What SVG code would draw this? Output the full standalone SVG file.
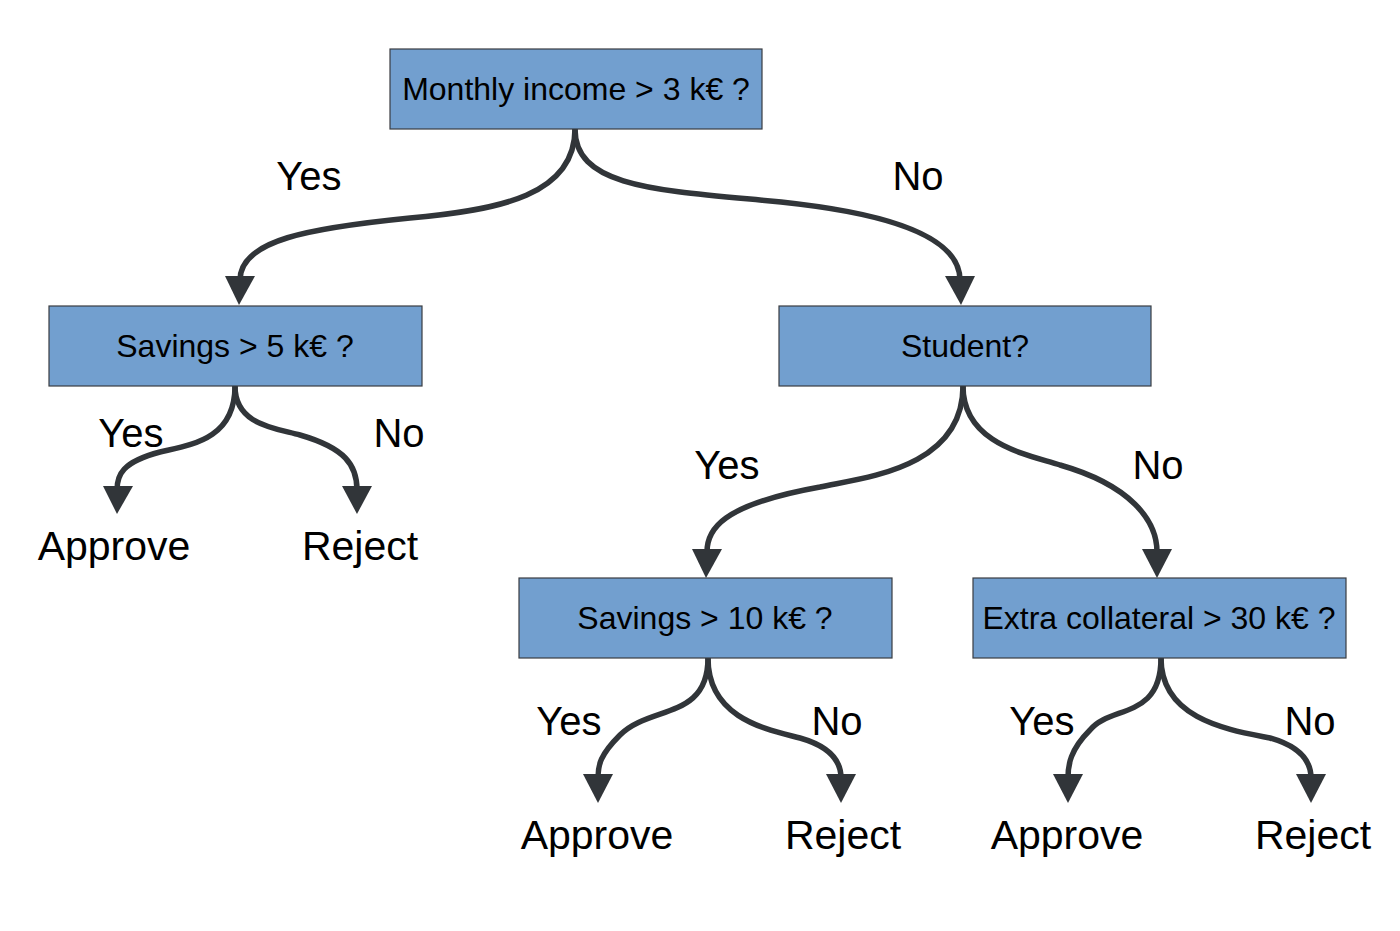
<svg xmlns="http://www.w3.org/2000/svg" width="1400" height="931" viewBox="0 0 1400 931">
<style>
.box{fill:#729fcf;stroke:#3a3d42;stroke-width:1.2}
.bt{font-family:"Liberation Sans",Arial,sans-serif;font-size:32px;fill:#000;text-anchor:middle}
.lb{font-family:"Liberation Sans",Arial,sans-serif;font-size:40px;fill:#000;text-anchor:middle}
.lf{font-family:"Liberation Sans",Arial,sans-serif;font-size:41px;fill:#000;text-anchor:middle}
.c{fill:none;stroke:#313539;stroke-width:5.5}
.ah{fill:#313539}
</style>
<rect width="1400" height="931" fill="#fff"/>
<g id="connectors">
<path class="c" d="M575,129 C575,195 500,210 410,218 C310,228 240,240 240,280"/>
<polygon class="ah" points="225,276 255,276 239,305"/>
<path class="c" d="M575,129 C575,185 650,190 760,200 C900,212 960,240 960,280"/>
<polygon class="ah" points="945,276 975,276 961,305"/>
<path class="c" d="M235,386 C235,440 190,445 160,452 C122,462 117,475 117,490"/>
<polygon class="ah" points="103,486 133,486 117,514"/>
<path class="c" d="M235,386 C235,425 275,428 300,435 C345,448 357,465 357,490"/>
<polygon class="ah" points="342,486 372,486 357,514"/>
<path class="c" d="M963,386 C963,470 860,478 820,487 C720,505 707,530 707,552"/>
<polygon class="ah" points="692,549 722,549 706,578"/>
<path class="c" d="M963,386 C963,445 1030,455 1060,465 C1130,485 1157,520 1157,552"/>
<polygon class="ah" points="1142,549 1172,549 1157,578"/>
<path class="c" d="M708,658 C708,720 650,705 620,735 C600,755 598,765 598,778"/>
<polygon class="ah" points="583,774 613,774 598,803"/>
<path class="c" d="M708,658 C708,720 770,730 800,738 C835,748 841,765 841,778"/>
<polygon class="ah" points="826,774 856,774 841,803"/>
<path class="c" d="M1161,658 C1161,720 1110,705 1090,730 C1070,750 1068,765 1068,778"/>
<polygon class="ah" points="1053,774 1083,774 1068,803"/>
<path class="c" d="M1161,658 C1161,720 1230,730 1270,738 C1305,748 1311,765 1311,778"/>
<polygon class="ah" points="1296,774 1326,774 1311,803"/>
</g>
<g id="n-income"><rect class="box" x="390" y="49" width="372" height="80"/><text class="bt" x="576" y="100">Monthly income &gt; 3 k€ ?</text></g>
<g id="n-savings5"><rect class="box" x="49" y="306" width="373" height="80"/><text class="bt" x="235" y="357">Savings &gt; 5 k€ ?</text></g>
<g id="n-student"><rect class="box" x="779" y="306" width="372" height="80"/><text class="bt" x="965" y="357">Student?</text></g>
<g id="n-savings10"><rect class="box" x="519" y="578" width="373" height="80"/><text class="bt" x="705" y="629">Savings &gt; 10 k€ ?</text></g>
<g id="n-collateral"><rect class="box" x="973" y="578" width="373" height="80"/><text class="bt" x="1159" y="629">Extra collateral &gt; 30 k€ ?</text></g>
<g id="labels">
<text class="lb" x="309" y="190">Yes</text>
<text class="lb" x="918" y="190">No</text>
<text class="lb" x="131" y="447">Yes</text>
<text class="lb" x="399" y="447">No</text>
<text class="lb" x="727" y="479">Yes</text>
<text class="lb" x="1158" y="479">No</text>
<text class="lb" x="569" y="735">Yes</text>
<text class="lb" x="837" y="735">No</text>
<text class="lb" x="1042" y="735">Yes</text>
<text class="lb" x="1310" y="735">No</text>
</g>
<g id="n-approve1"><text class="lf" x="114" y="560">Approve</text></g>
<g id="n-reject1"><text class="lf" x="360" y="560">Reject</text></g>
<g id="n-approve2"><text class="lf" x="597" y="849">Approve</text></g>
<g id="n-reject2"><text class="lf" x="843" y="849">Reject</text></g>
<g id="n-approve3"><text class="lf" x="1067" y="849">Approve</text></g>
<g id="n-reject3"><text class="lf" x="1313" y="849">Reject</text></g>
</svg>
